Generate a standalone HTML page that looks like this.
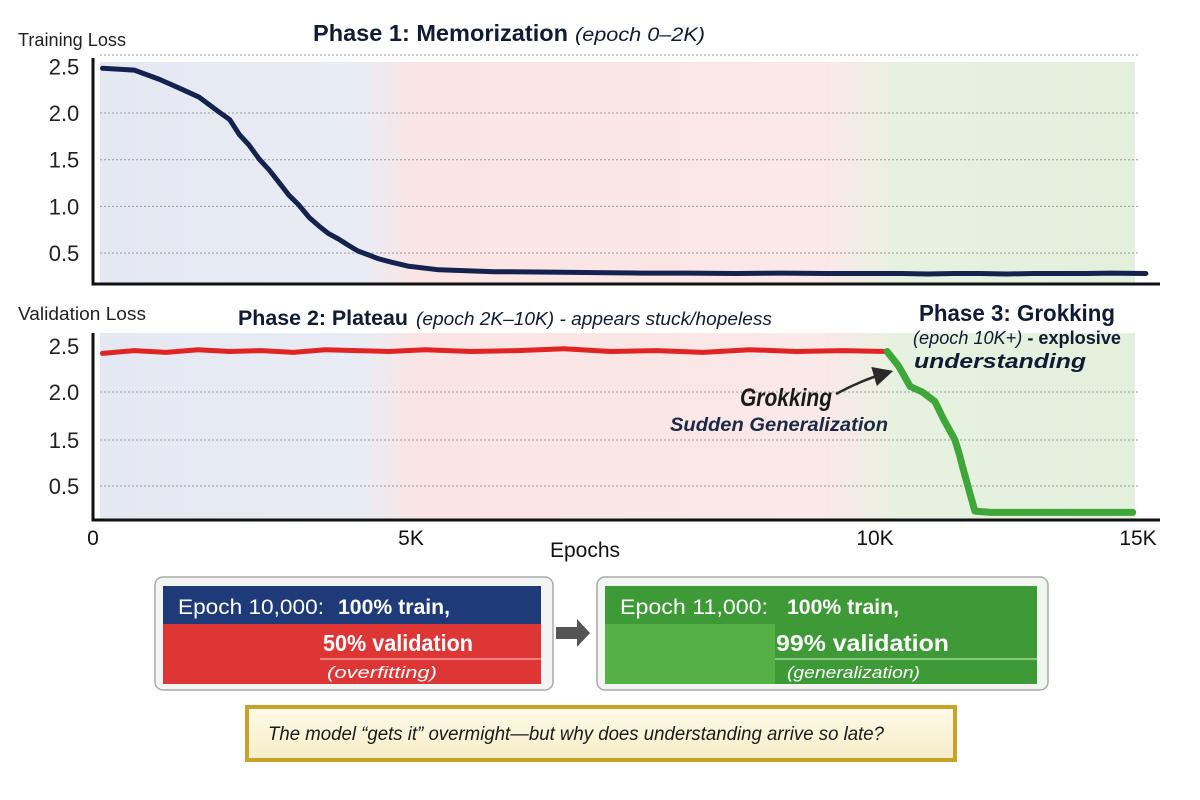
<!DOCTYPE html>
<html><head><meta charset="utf-8"><style>
html,body{margin:0;padding:0;background:#fff;width:1200px;height:800px;overflow:hidden}
svg{display:block;font-family:"Liberation Sans",sans-serif}
</style></head><body>
<svg id="chart" width="1200" height="800" viewBox="0 0 1200 800">
<defs>
<linearGradient id="bgGrad" x1="93" x2="1138" y1="0" y2="0" gradientUnits="userSpaceOnUse">
<stop offset="0" stop-color="#e4e8f2"/><stop offset="0.26" stop-color="#e9ecf4"/>
<stop offset="0.31" stop-color="#fbe4e4"/><stop offset="0.70" stop-color="#fbe8e8"/>
<stop offset="0.77" stop-color="#e6f2e0"/><stop offset="1" stop-color="#e2f0dc"/>
</linearGradient>
<linearGradient id="cream" x1="0" y1="0" x2="0" y2="1"><stop offset="0" stop-color="#fffbe8"/><stop offset="1" stop-color="#f6ecc8"/></linearGradient>
<marker id="ah" markerWidth="8" markerHeight="8" refX="5" refY="4" orient="auto"><path d="M0,0 L8,4 L0,8 Z" fill="#2a2a2a"/></marker>
</defs>
<g id="plots"></g>

<text x="18" y="46" font-size="18" fill="#222" textLength="108" lengthAdjust="spacingAndGlyphs">Training Loss</text>
<text x="313" y="41" font-size="23" font-weight="bold" fill="#111b33" textLength="255" lengthAdjust="spacingAndGlyphs">Phase 1: Memorization</text>
<text x="575" y="41" font-size="19" font-style="italic" fill="#111b33" textLength="130" lengthAdjust="spacingAndGlyphs">(epoch 0–2K)</text>
<text x="18" y="320" font-size="18" fill="#222" textLength="128" lengthAdjust="spacingAndGlyphs">Validation Loss</text>
<text x="238" y="325" font-size="21" font-weight="bold" fill="#111b33" textLength="170" lengthAdjust="spacingAndGlyphs">Phase 2: Plateau</text>
<text x="416" y="325" font-size="18" font-style="italic" fill="#111b33" textLength="356" lengthAdjust="spacingAndGlyphs">(epoch 2K–10K) - appears stuck/hopeless</text>
<text x="1017" y="321" font-size="23" font-weight="bold" fill="#111b33" text-anchor="middle" textLength="196" lengthAdjust="spacingAndGlyphs">Phase 3: Grokking</text>
<text x="1017" y="344" font-size="18" fill="#111b33" text-anchor="middle" textLength="208" lengthAdjust="spacingAndGlyphs"><tspan font-style="italic">(epoch 10K+)</tspan><tspan font-weight="bold"> - explosive</tspan></text>
<text x="1000" y="368" font-size="20" font-weight="bold" font-style="italic" fill="#111b33" text-anchor="middle" textLength="172" lengthAdjust="spacingAndGlyphs">understanding</text>
<text x="786" y="406" font-size="25" font-weight="bold" font-style="italic" fill="#1a1a1a" text-anchor="middle" textLength="92" lengthAdjust="spacingAndGlyphs">Grokking</text>
<text x="779" y="431" font-size="19" font-weight="bold" font-style="italic" fill="#1a2a44" text-anchor="middle" textLength="218" lengthAdjust="spacingAndGlyphs">Sudden Generalization</text>
<path d="M836,394 Q862,380 886,373" fill="none" stroke="#2a2a2a" stroke-width="2.5" marker-end="url(#ah)"/>
<text x="585" y="557" font-size="21" fill="#111" text-anchor="middle">Epochs</text>

<g>
<rect x="155" y="577" width="398" height="113" rx="8" fill="#f4f4f4" stroke="#aaa" stroke-width="1.5"/>
<rect x="163" y="586" width="378" height="38" fill="#1f3a78"/>
<rect x="163" y="624" width="378" height="60" fill="#de3535"/>
<line x1="320" y1="659" x2="541" y2="659" stroke="#f29a9a" stroke-width="1.5"/>
<text x="178" y="614" font-size="21" fill="#fff" textLength="146" lengthAdjust="spacingAndGlyphs">Epoch 10,000:</text>
<text x="338" y="614" font-size="21" font-weight="bold" fill="#fff" textLength="112" lengthAdjust="spacingAndGlyphs">100% train,</text>
<text x="323" y="651" font-size="23" font-weight="bold" fill="#fff" textLength="150" lengthAdjust="spacingAndGlyphs">50% validation</text>
<text x="327" y="678" font-size="17" font-style="italic" fill="#fff" textLength="110" lengthAdjust="spacingAndGlyphs">(overfitting)</text>
</g>
<path d="M556,627 L577,627 L577,619 L590,633 L577,647 L577,639 L556,639 Z" fill="#555"/>
<g>
<rect x="597" y="577" width="451" height="113" rx="8" fill="#f2f6f0" stroke="#aaa" stroke-width="1.5"/>
<rect x="605" y="586" width="432" height="38" fill="#3e9a36"/>
<rect x="605" y="624" width="432" height="60" fill="#55b046"/>
<rect x="775" y="624" width="262" height="60" fill="#3e9a36"/>
<line x1="775" y1="659" x2="1037" y2="659" stroke="#a6d79a" stroke-width="1.5"/>
<text x="620" y="614" font-size="21" fill="#fff" textLength="148" lengthAdjust="spacingAndGlyphs">Epoch 11,000:</text>
<text x="787" y="614" font-size="21" font-weight="bold" fill="#fff" textLength="112" lengthAdjust="spacingAndGlyphs">100% train,</text>
<text x="776" y="651" font-size="23" font-weight="bold" fill="#fff" textLength="173" lengthAdjust="spacingAndGlyphs">99% validation</text>
<text x="787" y="678" font-size="17" font-style="italic" fill="#fff" textLength="133" lengthAdjust="spacingAndGlyphs">(generalization)</text>
</g>
<g>
<rect x="247" y="707" width="708" height="53" fill="url(#cream)" stroke="#c9a22a" stroke-width="4"/>
<text x="268" y="740" font-size="19" font-style="italic" fill="#1a1a1a" textLength="616" lengthAdjust="spacingAndGlyphs">The model “gets it” overmight—but why does understanding arrive so late?</text>
</g>
</svg>
<script>
const xTicks = [0, 5000, 10000, 15000];
const xTickLabels = ["0", "5K", "10K", "15K"];
const trainYTicks = [2.5, 2.0, 1.5, 1.0, 0.5];
const valYTicks = [2.5, 2.0, 1.5, 0.5];
const trainEpochs = [150,650,1050,1350,1670,1985,2150,2300,2450,2610,2770,2920,3080,3230,3400,3550,3700,3860,4020,4170,4330,4480,4700,4950,5300,5900,6500,7000,7500,8000,8500,9000,9500,10000,10500,11000,11500,12000,12500,13000,13500,14000,14500,15150];
const trainLoss = [2.48,2.46,2.36,2.27,2.17,2.01,1.93,1.77,1.66,1.51,1.39,1.26,1.12,1.02,0.88,0.79,0.71,0.65,0.58,0.52,0.48,0.44,0.40,0.36,0.32,0.30,0.295,0.29,0.285,0.285,0.28,0.285,0.28,0.28,0.28,0.275,0.28,0.28,0.275,0.28,0.28,0.28,0.285,0.28];
const valEpochs = [150,650,1150,1650,2150,2650,3150,3650,4150,4650,5150,5650,6150,6650,7150,7650,8150,8650,9150,9650,10230];
const valLoss = [2.42,2.45,2.43,2.46,2.44,2.45,2.43,2.46,2.45,2.44,2.46,2.44,2.45,2.47,2.44,2.45,2.43,2.46,2.44,2.45,2.44];
const grokEpochs = [10230,10450,10670,10900,11140,11300,11520,11600,11670,11800,11900,12200,13000,14000,14900];
const grokLoss = [2.44,2.28,2.06,2.0,1.9,1.72,1.5,1.2,0.9,0.4,0.12,0.1,0.1,0.1,0.1];

function pw(v, d, r){ for(let i=0;i<d.length-1;i++){ if(v<=d[i+1]||i===d.length-2){ return r[i]+(v-d[i])/(d[i+1]-d[i])*(r[i+1]-r[i]); } } }
const xS = v => pw(v,[0,5000,10000,15000],[93,411,875,1138]);
const yTop = v => 253 - (v-0.5)*93.3;
const yBot = v => pw(v,[0,0.5,1.5,2.0,2.5],[519,486,440,392,346]);
const NS="http://www.w3.org/2000/svg";
const g=document.getElementById('plots');
function mk(t,a){const e=document.createElementNS(NS,t);for(const k in a)e.setAttribute(k,a[k]);g.appendChild(e);return e;}

let e=mk('rect',{x:100,y:62,width:1035,height:221,fill:'url(#bgGrad)'});


e=mk('rect',{x:100,y:333,width:1035,height:186,fill:'url(#bgGrad)'});



mk('line',{x1:100,x2:1138,y1:55,y2:55,stroke:'#999','stroke-width':1,'stroke-dasharray':'2,2'});
trainYTicks.forEach(v=>{
  if(v<2.5){e=mk('line',{x1:100,x2:1138,y1:yTop(v),y2:yTop(v),stroke:'#999','stroke-width':1,'stroke-dasharray':'2,2'});
  
  }
  e=mk('text',{x:64,y:yTop(v)+8,'font-size':22,'text-anchor':'middle',fill:'#222'});e.textContent=v.toFixed(1);
  
  
});
valYTicks.forEach(v=>{
  if(v<2.5){e=mk('line',{x1:100,x2:1138,y1:yBot(v),y2:yBot(v),stroke:'#999','stroke-width':1,'stroke-dasharray':'2,2'});
  
  }
  e=mk('text',{x:64,y:yBot(v)+8,'font-size':22,'text-anchor':'middle',fill:'#222'});e.textContent=v.toFixed(1);
  
  
});
e=mk('path',{d:'M93,58 L93,284 L1160,284',fill:'none',stroke:'#111','stroke-width':3});


e=mk('path',{d:'M93,333 L93,520 L1160,520',fill:'none',stroke:'#111','stroke-width':3});


xTicks.forEach((v,i)=>{
  e=mk('text',{x:xS(v),y:545,'font-size':21,'text-anchor':'middle',fill:'#111'});e.textContent=xTickLabels[i];
  
  
});
function line(xs,ys,yf,color,w,name){
  const d=xs.map((x,i)=>(i?'L':'M')+xS(x).toFixed(1)+','+yf(ys[i]).toFixed(1)).join(' ');
  const p=mk('path',{d:d,fill:'none',stroke:color,'stroke-width':w,'stroke-linejoin':'round','stroke-linecap':'round'});
  
  
}
line(trainEpochs,trainLoss,yTop,'#15224f',5,'training-loss-line');
line(valEpochs,valLoss,yBot,'#e02424',5,'validation-loss-plateau-line');
line(grokEpochs,grokLoss,yBot,'#3fa63a',7,'validation-loss-grokking-line');
</script>
</body></html>
